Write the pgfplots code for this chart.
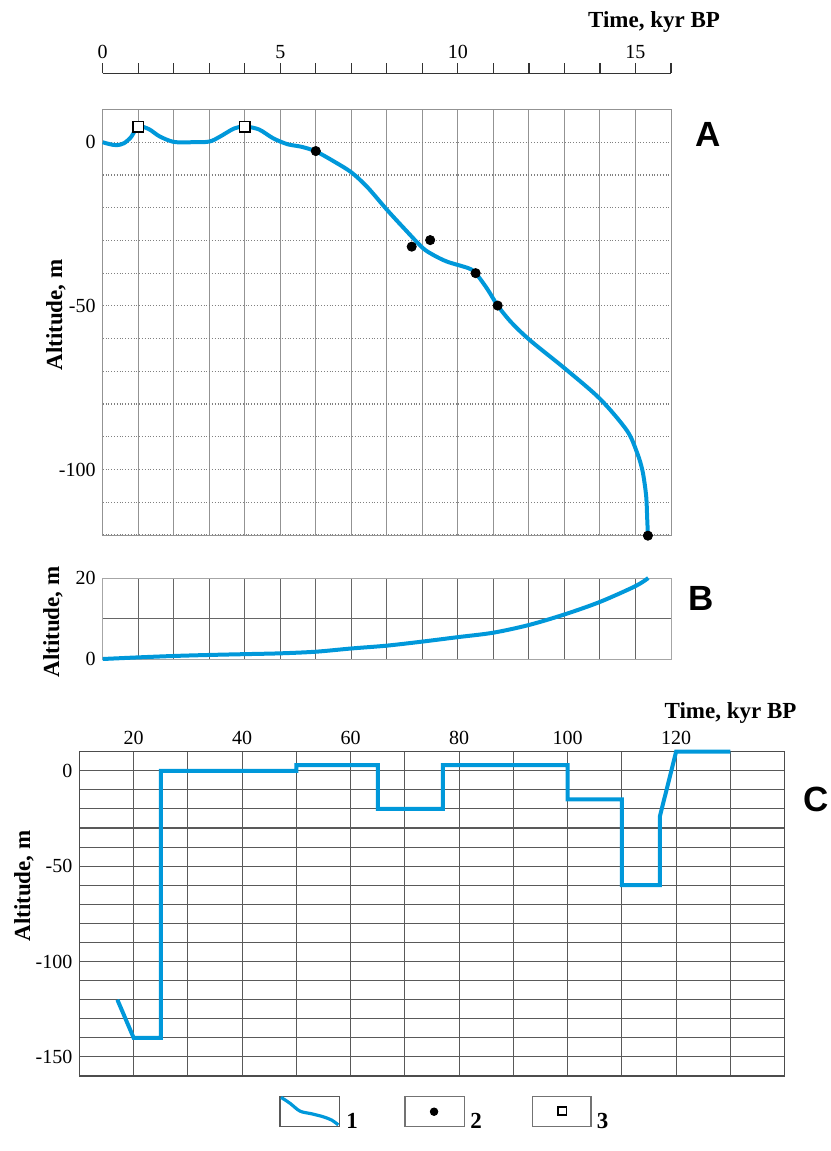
\documentclass[border=0pt]{standalone}
\usepackage{fontspec}
\setmainfont{Liberation Serif}
\newfontfamily\sanslbl{Liberation Sans}
\usepackage{pgfplots}
\pgfplotsset{compat=1.18}
\definecolor{curve}{RGB}{0,152,218}
\begin{document}
\begin{tikzpicture}
\useasboundingbox (0,0) rectangle (415pt,-575.5pt);
\pgfplotsset{
  every axis/.append style={scale only axis,
    /pgf/number format/assume math mode=true,
    tick label style={font=\fontsize{10}{12}\selectfont}},
}
% ---------- top time axis ----------
\begin{axis}[at={(51.35pt,-36.65pt)}, anchor=south west,
  width=284.15pt, height=5.3pt, xmin=0, xmax=16, ymin=0, ymax=1,
  hide y axis, axis x line*=bottom,
  xtick={0,...,16}, xticklabels={0,,,,,5,,,,,10,,,,,15,},
  xticklabel style={anchor=south, yshift=3.6pt},
  tick align=inside, major tick length=5.3pt,
  tick style={black!80, line width=0.6pt},
  axis line style={black!80, line width=0.7pt}]
\end{axis}
% ---------- panel A ----------
\begin{axis}[at={(51.35pt,-54.75pt)}, anchor=north west,
  width=284.15pt, height=212.75pt,
  xmin=0, xmax=16, ymin=-120, ymax=10,
  xtick={0,...,16}, xticklabels={},
  ytick={-120,-110,...,10}, yticklabels={,,-100,,,,,-50,,,,,0,},
  major tick length=0pt,
  xmajorgrids, ymajorgrids,
  x grid style={gray!85, line width=0.5pt},
  y grid style={gray, densely dotted, line width=0.6pt},
  axis line style={gray!85, line width=0.5pt},
  clip=false]
\addplot[curve, line width=2pt, smooth, tension=0.5] coordinates {
 (0,0) (0.2,-0.6) (0.4,-0.9) (0.6,-0.3) (0.8,1.6) (1.0,4.8) (1.3,4.0)
 (1.6,1.8) (2.0,0.1) (2.5,0) (3.0,0.2) (3.3,1.7) (3.7,4.2) (4.0,4.8)
 (4.4,3.9) (4.8,1.2) (5.2,-0.6) (5.6,-1.4) (6.0,-2.8) (6.5,-5.8)
 (7.0,-9.2) (7.45,-13.7) (8.0,-20.6) (8.5,-26.5) (9.0,-32.2)
 (9.3,-34.4) (9.7,-36.5) (10.3,-38.5) (10.5,-40) (10.82,-44.7)
 (11.12,-49.9) (11.5,-55) (12.04,-60.6) (13.02,-69.2) (14.0,-78.4)
 (14.76,-88.1) (15.05,-95) (15.2,-100.5) (15.3,-108) (15.33,-115) (15.35,-120)
};
\addplot[only marks, mark=*, mark size=2.3pt, black] coordinates {
 (6.0,-2.7) (8.7,-31.9) (9.22,-29.9) (10.5,-40) (11.12,-49.9) (15.35,-120.2)
};
\addplot[only marks, mark=square*, mark size=2.6pt,
  mark options={fill=white, draw=black, line width=0.8pt}] coordinates {
 (1,4.8) (4,4.8)
};
\end{axis}
% ---------- panel B ----------
\begin{axis}[at={(51.35pt,-289pt)}, anchor=north west,
  width=284.15pt, height=40.5pt,
  xmin=0, xmax=16, ymin=0, ymax=20,
  xtick={0,...,16}, xticklabels={},
  ytick={0,10,20}, yticklabels={0,,20},
  major tick length=0pt,
  xmajorgrids, ymajorgrids,
  grid style={black!60, line width=0.5pt},
  axis line style={gray!70, line width=0.5pt},
  clip=false]
\addplot[curve, line width=2pt, smooth, tension=0.5] coordinates {
 (0,0) (1,0.4) (2,0.75) (3,1.0) (4,1.2) (5,1.4) (6,1.8) (7,2.6) (8,3.3)
 (9,4.3) (10,5.4) (11,6.5) (12,8.4) (13,11.0) (14,14.1) (15,18.0) (15.36,20)
};
\end{axis}
% ---------- panel C ----------
\begin{axis}[at={(39.7pt,-375.85pt)}, anchor=north west,
  width=352.6pt, height=162.15pt,
  xmin=10, xmax=140, ymin=-160, ymax=10,
  xtick={10,20,...,140}, xticklabels={,20,,40,,60,,80,,100,,120,,},
  xticklabel pos=right,
  ytick={-160,-150,...,10}, yticklabels={,-150,,,,,-100,,,,,-50,,,,,0,},
  major tick length=0pt,
  xmajorgrids, ymajorgrids,
  grid style={black!65, line width=0.55pt},
  axis line style={black!70, line width=0.6pt},
  clip=false]
\addplot[curve, line width=2pt] coordinates {
 (17,-120) (20,-140) (25,-140) (25,0) (50,0) (50,3) (65,3) (65,-20)
 (77,-20) (77,3) (100,3) (100,-15) (110,-15) (110,-60) (117,-60)
 (117,-24) (120,10) (130,10)
};
\end{axis}
% ---------- legend boxes ----------
\begin{axis}[at={(140pt,-548.35pt)}, anchor=north west,
  width=29.65pt, height=15pt, xmin=0, xmax=1, ymin=0, ymax=1,
  xtick=\empty, ytick=\empty, axis line style={black!65, line width=0.6pt}, clip=false]
\addplot[curve, line width=1.6pt, smooth] coordinates {
 (0.017,0.98) (0.169,0.78) (0.337,0.52) (0.534,0.43) (0.73,0.33) (0.872,0.22) (0.983,0.06)
};
\end{axis}
\begin{axis}[at={(202.5pt,-548.35pt)}, anchor=north west,
  width=29.65pt, height=15pt, xmin=0, xmax=1, ymin=0, ymax=1,
  xtick=\empty, ytick=\empty, axis line style={black!55, line width=0.6pt}, clip=false]
\addplot[only marks, mark=*, mark size=1.9pt, black] coordinates {(0.49,0.5)};
\end{axis}
\begin{axis}[at={(266.15pt,-548.35pt)}, anchor=north west,
  width=29.35pt, height=15pt, xmin=0, xmax=1, ymin=0, ymax=1,
  xtick=\empty, ytick=\empty, axis line style={black!55, line width=0.6pt}, clip=false]
\addplot[only marks, mark=square*, mark size=2.1pt,
  mark options={fill=white, draw=black, line width=0.9pt}] coordinates {(0.51,0.53)};
\end{axis}
% ---------- texts ----------
\tikzset{lbl/.style={font=\bfseries\fontsize{11.5}{13}\selectfont, inner sep=0pt}}
\node[lbl] at (327pt,-10.85pt) {Time, kyr BP};
\node[lbl] at (365.25pt,-356.5pt) {Time, kyr BP};
\node[lbl, rotate=90] at (28pt,-157.5pt) {Altitude, m};
\node[lbl, rotate=90] at (26.5pt,-311pt) {Altitude, m};
\node[lbl, rotate=90] at (12pt,-443pt) {Altitude, m};
\node[lbl] at (176pt,-560.5pt) {1};
\node[lbl] at (238pt,-560.5pt) {2};
\node[lbl] at (301.25pt,-560.5pt) {3};
\tikzset{big/.style={font=\sanslbl\bfseries\fontsize{17.5}{20}\selectfont, inner sep=0pt}}
\node[big] at (354pt,-67pt) {A};
\node[big] at (350.5pt,-299pt) {B};
\node[big] at (408pt,-399.5pt) {C};
\end{tikzpicture}
\end{document}
